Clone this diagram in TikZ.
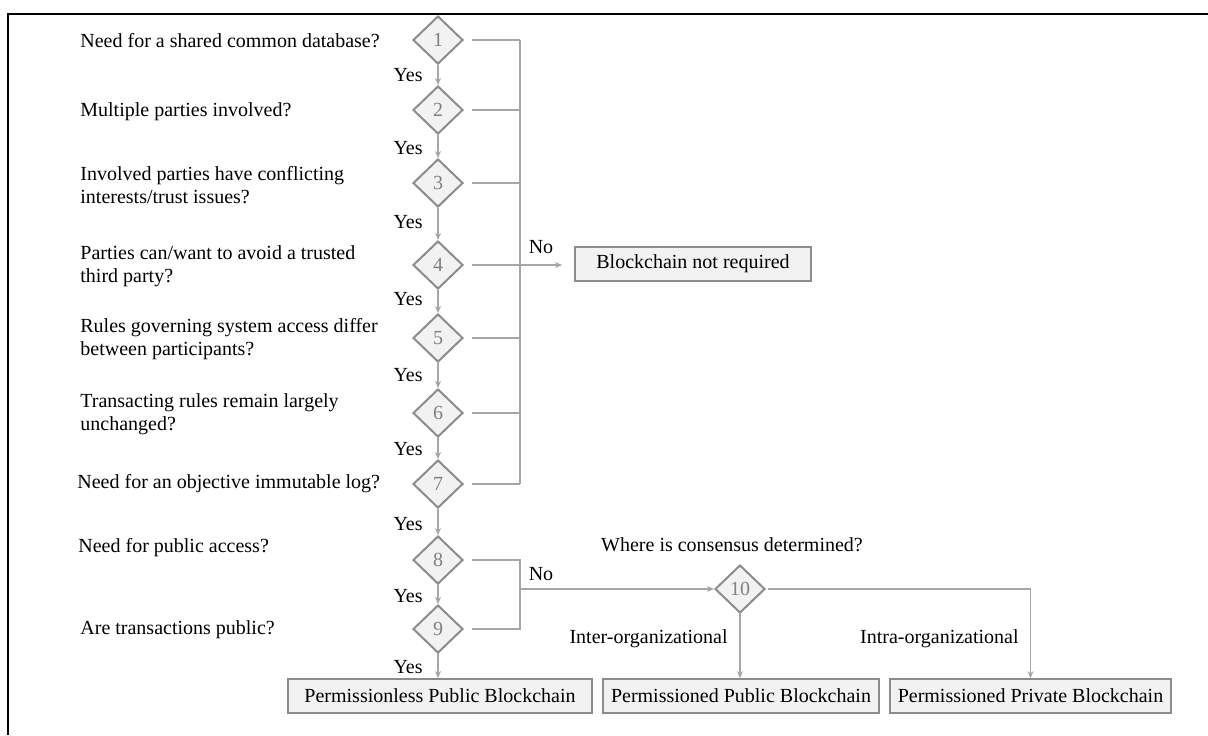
\documentclass[tikz,border=0pt]{standalone}
\usepackage{fontspec}
\setmainfont{Liberation Serif}
\usetikzlibrary{arrows.meta,shapes.geometric,positioning,calc}
\definecolor{linegray}{HTML}{A6A6A6}
\definecolor{edgegray}{HTML}{8C8C8C}
\definecolor{fillgray}{HTML}{F2F2F2}
\definecolor{numgray}{HTML}{808080}
\tikzset{
  qdiamond/.style={diamond, draw=edgegray, fill=fillgray, line width=1pt, aspect=1.06,
    minimum width=25pt, minimum height=24pt, inner sep=0pt, text=numgray},
  outbox/.style={draw=edgegray, fill=fillgray, line width=0.9pt, minimum height=17pt, inner sep=0pt},
  link/.style={draw=linegray, line width=0.8pt},
  arr/.style={link, -{Stealth[length=3.5pt,width=3pt]}}
}
\begin{document}
\begin{tikzpicture}[x=0.5pt, y=-0.5pt, inner sep=0pt, font=\fontsize{10}{11.5}\selectfont]
\useasboundingbox (0,0) rectangle (1208,735);
\draw[line width=1pt] (8,735) -- (8,14) -- (1208,14);
\foreach \i/\y in {1/40,2/110,3/183,4/265,5/338,6/413,7/484,8/560,9/629}
  \node[qdiamond] (d\i) at (438,\y) {\i};
\node[qdiamond] (d10) at (740,589) {10};
\foreach \i/\x/\y/\t in {1/80/41/{Need for a shared common database?},
    2/80/112/{Multiple parties involved?},
    3/80/185/{Involved parties have conflicting\\interests/trust issues?},
    4/80/266/{Parties can/want to avoid a trusted\\third party?},
    5/80/339/{Rules governing system access differ\\between participants?},
    6/80/414/{Transacting rules remain largely\\unchanged?},
    7/77/484/{Need for an objective immutable log?},
    8/78/548/{Need for public access?},
    9/80/630/{Are transactions public?}}
  \node[anchor=west, align=left] (q\i) at (\x,\y) {\t};
\foreach \i/\y in {1/75,2/148,3/222,4/299,5/375,6/449,7/524,8/596,9/667}
  \node[anchor=east] (yes\i) at (423,\y) {Yes};
\foreach \i in {1,...,8} {
  \pgfmathtruncatemacro\n{\i+1}
  \draw[arr] (d\i) -- (d\n);
}
\coordinate (bus) at (520,40);
\foreach \i in {1,...,7}
  \draw[link] ([xshift=4pt]d\i.east) -- (d\i -| bus);
\draw[link] (bus |- d1) -- (bus |- d7);
\node[outbox, minimum width=118pt] (nr) at (693,264) {Blockchain not required};
\draw[arr, shorten >=6pt] (bus |- d4) -- (nr.west |- d4);
\node (no1) at (541,247) {No};
\coordinate (lowbus) at (520,560);
\draw[link] ([xshift=4pt]d8.east) -- (d8 -| lowbus) -- (d9 -| lowbus) -- ([xshift=4pt]d9.east);
\draw[arr] (lowbus |- d10) -- (d10.west);
\node (no2) at (541,574) {No};
\node (cq) at (732,545) {Where is consensus determined?};
\node[outbox, minimum width=152pt] (pl) at (440,696) {Permissionless Public Blockchain};
\node[outbox, minimum width=138pt] (pub) at (741,696) {Permissioned Public Blockchain};
\node[outbox, minimum width=140.5pt] (prv) at (1030.5,696) {Permissioned Private Blockchain};
\draw[arr] (d9) -- (d9 |- pl.north);
\draw[arr] (d10) -- (d10 |- pub.north);
\draw[arr] ([xshift=1pt]d10.east) -| (prv.north);
\node[anchor=east] (inter) at (728,639) {Inter-organizational};
\node[anchor=east] (intra) at (1019,639) {Intra-organizational};
\end{tikzpicture}
\end{document}
